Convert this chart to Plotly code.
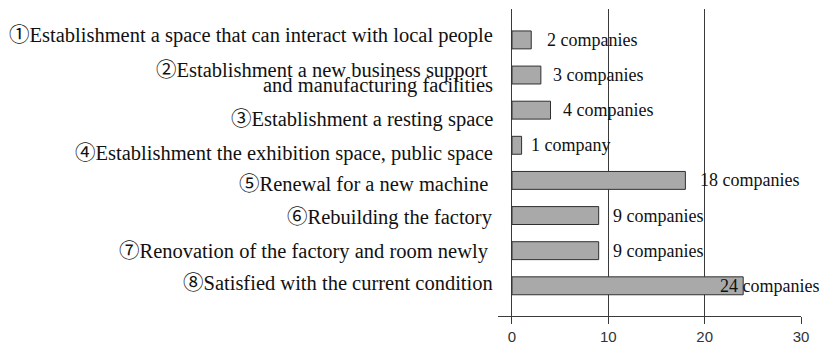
import plotly.graph_objects as go

# ─── Data ─────────────────────────────────────────────────────────────────────
categories = [
    "①Establishment a space that can interact with local people",
    "②Establishment a new business support\u00a0<br>and manufacturing facilities",
    "③Establishment a resting space",
    "④Establishment the exhibition space, public space",
    "⑤Renewal for a new machine\u00a0",
    "⑥Rebuilding the factory",
    "⑦Renovation of the factory and room newly\u00a0",
    "⑧Satisfied with the current condition",
]
companies = [2, 3, 4, 1, 18, 9, 9, 24]
value_labels = [
    "2 companies", "3 companies", "4 companies", "1 company",
    "18 companies", "9 companies", "9 companies", "24 companies",
]
x_ticks = [0, 10, 20, 30]

# décalages (px) des étiquettes, reproduits tels quels depuis l'original
value_xshift = [14, 10, 10, 7, 13, 12, 12, -25]
cat_yshift = [[4], [5, -10], [-9], [-8], [-4], [-2], [-1], [3]]

SERIF = "Liberation Serif, Noto Sans CJK JP, Times New Roman, serif"
GRID = "#3a3a3a"

fig = go.Figure(go.Bar(
    x=companies,
    y=categories,
    orientation="h",
    width=0.51,
    marker=dict(color="#a9a9a9", line=dict(color="#303030", width=1)),
    hoverinfo="skip",
))

annotations = []
for cat, val, lab, dx, dys in zip(categories, companies, value_labels, value_xshift, cat_yshift):
    annotations.append(dict(
        x=val, y=cat, xref="x", yref="y", text=lab, showarrow=False,
        xanchor="left", xshift=dx, font=dict(family=SERIF, size=18, color="#111"),
    ))
    for line, dy in zip(cat.split("<br>"), dys):
        annotations.append(dict(
            x=0, y=cat, xref="paper", yref="y", text=line, showarrow=False,
            xanchor="right", xshift=-3, yshift=dy,
            font=dict(family=SERIF, size=20.5, color="#111"),
        ))

# la page ajoute une marge de 8 px autour du graphique : on compense ici
fig.update_layout(
    width=819, height=340,
    margin=dict(l=490, r=26, t=1, b=32),
    plot_bgcolor="white", paper_bgcolor="white",
    showlegend=False,
    annotations=annotations,
    xaxis=dict(
        range=[-1.45, 30], tickvals=x_ticks, showgrid=True,
        gridcolor=GRID, gridwidth=1, zeroline=False,
        showline=True, linecolor=GRID, linewidth=1,
        ticks="outside", ticklen=7, tickcolor=GRID,
        tickfont=dict(family="Liberation Sans, Arial, sans-serif", size=15, color="#333"),
    ),
    yaxis=dict(
        range=[7.86, -0.88], showticklabels=False, showgrid=False,
        zeroline=False, showline=False, ticks="",
    ),
)

fig.write_html("out.html", config=dict(displayModeBar=False))
